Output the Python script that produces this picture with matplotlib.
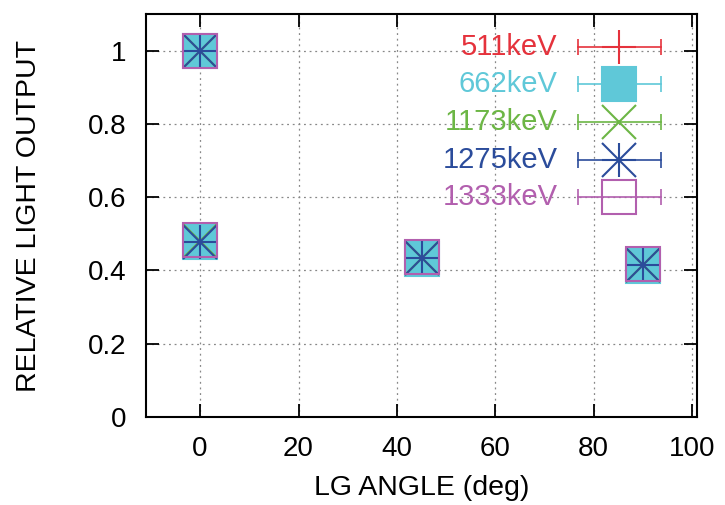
import matplotlib
matplotlib.use("Agg")
import matplotlib.pyplot as plt

plt.rcParams['font.family'] = ['Liberation Sans', 'DejaVu Sans']

# LG angle (deg) - first point is the reference without LG
angles = [0, 0, 45, 90]

energies = ["511keV", "662keV", "1173keV", "1275keV", "1333keV"]
light_511 = [1.0, 0.480, 0.435, 0.415]
light_662 = [1.0, 0.478, 0.432, 0.413]
light_1173 = [1.0, 0.480, 0.434, 0.415]
light_1275 = [1.0, 0.478, 0.433, 0.414]
light_1333 = [1.0, 0.482, 0.437, 0.418]
err_511 = [0.01, 0.01, 0.01, 0.01]
err_662 = [0.01, 0.01, 0.01, 0.01]
err_1173 = [0.035, 0.02, 0.03, 0.015]
err_1275 = [0.02, 0.035, 0.02, 0.02]
err_1333 = [0.01, 0.01, 0.01, 0.01]

xticks = [0, 20, 40, 60, 80, 100]
yticks = [0, 0.2, 0.4, 0.6, 0.8, 1.0]
ytick_labels = ["0", "0.2", "0.4", "0.6", "0.8", "1"]

series = [
    (light_511, err_511, "#e5323c", dict(marker="+", mfc="none")),
    (light_662, err_662, "#5fc8d8", dict(marker="s", mfc="#5fc8d8")),
    (light_1173, err_1173, "#6cb645", dict(marker="x", mfc="none")),
    (light_1275, err_1275, "#2b4c9b", dict(marker="*", mfc="none")),
    (light_1333, err_1333, "#b25fae", dict(marker="s", mfc="none")),
]

MS = 24

fig = plt.figure(figsize=(7.25, 5.05), dpi=100)
ax = fig.add_axes([146 / 725, 88 / 505, 551 / 725, 403 / 505])

for vals, errs, col, mk in series:
    ax.errorbar(angles, vals, yerr=errs, fmt="none", ecolor=col,
                elinewidth=1.2, capsize=11, capthick=1.2, zorder=3)
    if mk["marker"] == "*":
        # gnuplot-style star: plus + cross
        for m in ["+", "x"]:
            ax.plot(angles, vals, ls="none", marker=m, ms=MS, mew=1.5,
                    color=col, zorder=4)
    else:
        ax.plot(angles, vals, ls="none", marker=mk["marker"], ms=MS,
                mfc=mk["mfc"], mec=col, mew=1.5, color=col, zorder=4)

# key, drawn gnuplot style (text right, errorbar sample)
row_y = [0.918, 0.826, 0.732, 0.638, 0.546]
tr = ax.transAxes
for (vals, errs, col, mk), lab, yy in zip(series, energies, row_y):
    ax.text(0.747, yy, lab, color=col, fontsize=21, ha="right",
            va="center", transform=tr)
    ax.plot([0.784, 0.935], [yy, yy], color=col, lw=1.2, transform=tr,
            zorder=5)
    ax.plot([0.784, 0.935], [yy, yy], ls="none", marker="|", ms=12,
            mew=1.2, color=col, transform=tr, zorder=5)
    if mk["marker"] == "*":
        for m in ["+", "x"]:
            ax.plot([0.858], [yy], ls="none", marker=m, ms=24, mew=1.5,
                    color=col, transform=tr, zorder=6)
    else:
        ax.plot([0.858], [yy], ls="none", marker=mk["marker"], ms=24,
                mfc=mk["mfc"], mec=col, mew=1.5, color=col,
                transform=tr, zorder=6)

ax.set_xlim(-11, 101)
ax.set_ylim(0, 1.1)
ax.set_xticks(xticks)
ax.set_yticks(yticks)
ax.set_yticklabels(ytick_labels)
ax.tick_params(direction="in", length=9.5, width=1.3, top=True, right=True,
               labelsize=20)
ax.tick_params(axis="x", pad=14)
ax.tick_params(axis="y", pad=14)
ax.grid(True, color="#888888", linestyle=(0, (1.5, 3)), linewidth=0.9)
ax.set_axisbelow(True)
for sp in ax.spines.values():
    sp.set_linewidth(1.5)

ax.set_xlabel("LG ANGLE (deg)", fontsize=20.5, labelpad=9)
ax.set_ylabel("RELATIVE LIGHT OUTPUT", fontsize=20.5, labelpad=33)

fig.savefig("out.png", dpi=100)
